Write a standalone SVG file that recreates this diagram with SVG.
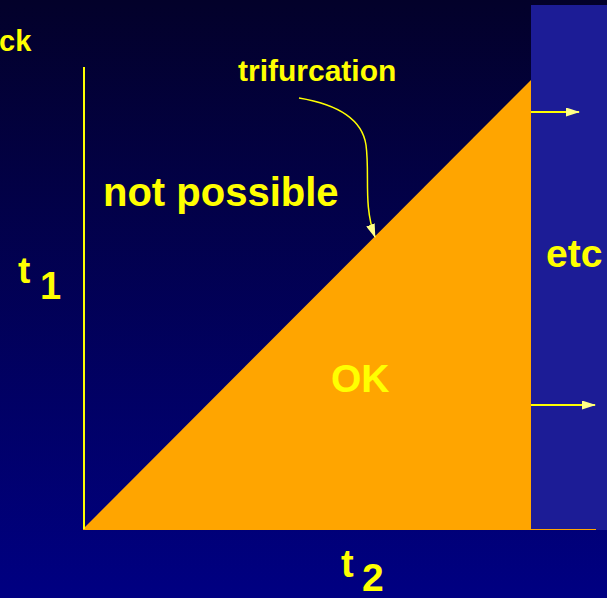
<svg xmlns="http://www.w3.org/2000/svg" width="607" height="598" viewBox="0 0 607 598">
<defs>
<linearGradient id="bg" x1="0" y1="0" x2="0" y2="1">
<stop offset="0" stop-color="#03012a"/>
<stop offset="1" stop-color="#000082"/>
</linearGradient>
<marker id="ah" markerWidth="14" markerHeight="9" refX="13" refY="4.5" orient="auto" markerUnits="userSpaceOnUse">
<path d="M0,0 L14,4.5 L0,9 Z" fill="#ffff88"/>
</marker>
<style>
text{font-family:"Liberation Sans",Arial,sans-serif;font-weight:bold;fill:#ffff00}
.ln{stroke:#ffff00;fill:none}
</style>
</defs>
<rect width="607" height="598" fill="url(#bg)"/>
<g id="etc-panel">
<rect x="531" y="5" width="76" height="525" fill="#1c1c96"/>
<text x="546" y="267" font-size="39">etc</text>
</g>
<g id="ok-region">
<polygon points="83,529 531,80 531,529" fill="#ffa500"/>
<line x1="83" y1="529.5" x2="596" y2="529.5" stroke="#ffa500" stroke-width="1"/>
<text x="331" y="392" font-size="39">OK</text>
</g>
<g id="axis">
<line x1="84" y1="67" x2="84" y2="529" stroke="#ffff00" stroke-width="2"/>
</g>
<g id="labels">
<text x="-1" y="51" font-size="29">ck</text>
<text x="238" y="81" font-size="30">trifurcation</text>
<text x="103" y="206" font-size="40">not possible</text>
<text x="18" y="283" font-size="37">t</text>
<text x="40" y="299" font-size="38">1</text>
<text x="341" y="577" font-size="38">t</text>
<text x="362" y="591" font-size="39">2</text>
</g>
<g id="connectors">
<path class="ln" stroke-width="1.5" d="M299,98 C335,104 362,118 366,145 C370,175 363,205 375,237" marker-end="url(#ah)"/>
<line class="ln" x1="531" y1="112" x2="579" y2="112" stroke-width="2" marker-end="url(#ah)"/>
<line class="ln" x1="531" y1="405" x2="595" y2="405" stroke-width="2" marker-end="url(#ah)"/>
</g>
</svg>
